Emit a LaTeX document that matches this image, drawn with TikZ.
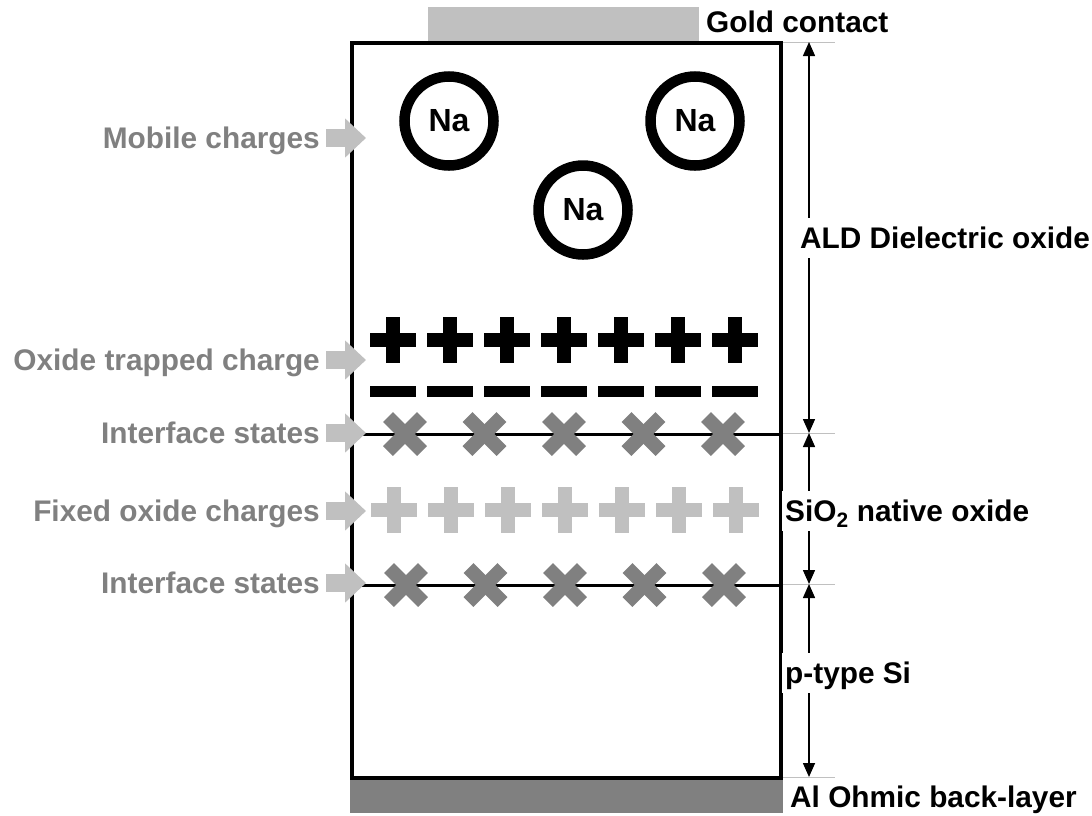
\documentclass[tikz,border=0pt]{standalone}
\usepackage{fontspec}
\setmainfont{Liberation Sans}
\usepackage{tikz}
\usetikzlibrary{arrows.meta,calc,positioning}
\definecolor{labelgray}{HTML}{808080}
\definecolor{contactgray}{HTML}{C0C0C0}
\newcommand{\lblfont}{\fontsize{29.8pt}{34pt}\selectfont\bfseries}
\newcommand{\ionfont}{\fontsize{32pt}{36pt}\selectfont\bfseries}

\begin{document}
\begin{tikzpicture}[x=1pt,y=-1pt,
    leftlabel/.style={anchor=east, text=labelgray, font=\lblfont, text height=21.3pt, text depth=0pt, inner sep=6pt},
    rightlabel/.style={anchor=west, font=\lblfont, text height=21.3pt, text depth=0pt, inner xsep=3pt, inner ysep=9pt},
    cutlabel/.style={rightlabel, fill=white},
    grayarrow/.style={line width=18pt, contactgray, -{Triangle[length=21pt,width=38pt]}},
    dimarrow/.style={line width=1.5pt, {Triangle[length=14pt,width=12pt]}-{Triangle[length=14pt,width=12pt]}},
    tickline/.style={line width=0.8pt, contactgray},
    ion/.style={draw, circle, line width=10.5pt, minimum size=89pt, inner sep=0pt, font=\ionfont},
    chargeplus/.pic={\fill (-23,-7) rectangle (23,7); \fill (-7,-23) rectangle (7,23);},
    chargeminus/.pic={\fill (-23,-5.5) rectangle (23,5.5);},
    trapcross/.pic={\draw[line width=14pt] (-17,-17) -- (17,17); \draw[line width=14pt] (-17,17) -- (17,-17);}
  ]
  \useasboundingbox (0,0) rectangle (1092,815);

  % Contacts and device stack
  \node[fill=contactgray, minimum width=271pt, minimum height=35pt, inner sep=0pt] (gold) at (563.5,24.5) {};
  \node[fill=labelgray, minimum width=433pt, minimum height=33pt, inner sep=0pt] (backlayer) at (566.5,796.5) {};
  \node[draw, line width=4pt, minimum width=429pt, minimum height=735pt, inner sep=0pt] (device) at (566.5,410.5) {};

  % Interfaces between the layers
  \draw[line width=3pt] (device.west |- 0,434) -- (device.east |- 0,434);
  \draw[line width=3pt] (device.west |- 0,585) -- (device.east |- 0,585);

  % Mobile ions
  \node[ion] (naA) at (449,121) {Na};
  \node[ion] (naB) at (695,121) {Na};
  \node[ion] (naC) at (583,210) {Na};

  % Trapped, fixed charges and interface states
  \foreach \i in {0,...,6} \pic[fill=black] at (393+57*\i,340) {chargeplus};
  \foreach \i in {0,...,6} \pic[fill=black] at (393+57*\i,391) {chargeminus};
  \foreach \i in {0,...,6} \pic[fill=contactgray] at (394+57*\i,510) {chargeplus};
  \foreach \i in {0,...,4} \pic[draw=labelgray] at (405+79.5*\i,434) {trapcross};
  \foreach \i in {0,...,4} \pic[draw=labelgray] at (406+79.5*\i,585) {trapcross};

  % Left labels with pointers
  \node[leftlabel] (mobile) at (326,138) {Mobile charges};
  \node[leftlabel] (trapped) at (326,360) {Oxide trapped charge};
  \node[leftlabel] (ifaceA) at (326,433) {Interface states};
  \node[leftlabel] (fixed) at (326,511) {Fixed oxide charges};
  \node[leftlabel] (ifaceB) at (326,583) {Interface states};
  \coordinate (mobileTip) at (366,138);
  \coordinate (trappedTip) at (366,360);
  \coordinate (ifaceATip) at (366,433);
  \coordinate (fixedTip) at (366,511);
  \coordinate (ifaceBTip) at (366,583);
  \draw[grayarrow] (mobile) -- (mobileTip);
  \draw[grayarrow] (trapped) -- (trappedTip);
  \draw[grayarrow] (ifaceA) -- (ifaceATip);
  \draw[grayarrow] (fixed) -- (fixedTip);
  \draw[grayarrow] (ifaceB) -- (ifaceBTip);

  % Thickness markers on the right
  \foreach \n/\y in {top/42,mid/433,low/584,bot/777} {
    \coordinate (\n L) at (783,\y);
    \coordinate (\n R) at (835,\y);
    \coordinate (\n A) at (809,\y);
    \draw[tickline] (\n L) -- (\n R);
  }
  \draw[dimarrow] (topA) -- (midA);
  \draw[dimarrow] (midA) -- (lowA);
  \draw[dimarrow] (lowA) -- (botA);

  % Right labels
  \node[rightlabel] (goldlbl) at (703,22) {Gold contact};
  \node[cutlabel] (ald) at (797,238) {ALD Dielectric oxide};
  \node[cutlabel] (native) at (782,511) {SiO\textsubscript{2} native oxide};
  \node[cutlabel] (ptype) at (782,673) {p-type Si};
  \node[rightlabel] (al) at (787,797) {Al Ohmic back-layer};
\end{tikzpicture}
\end{document}
